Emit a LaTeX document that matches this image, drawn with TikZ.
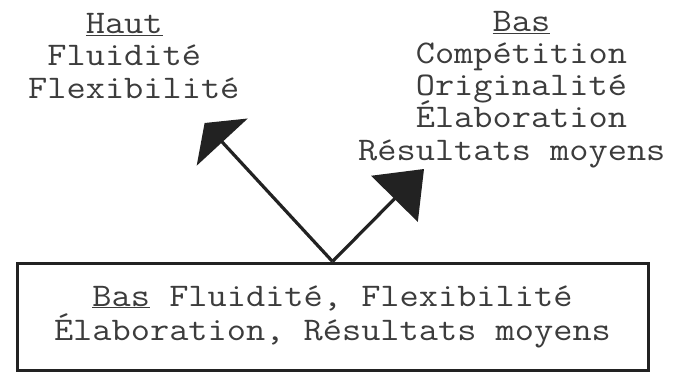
\documentclass[tikz,border=0pt]{standalone}
\usepackage{fontspec}
\usetikzlibrary{arrows.meta}
% typewriter face, a little widened to the pitch of the machine
\newfontfamily\typewriter{Latin Modern Mono}[FakeStretch=1.13]
\definecolor{ink}{HTML}{222222}
\definecolor{typed}{HTML}{3C3C3C}
% fixed line pitch, as on a typewriter
\newcommand\typedfont[1]{\typewriter\fontsize{33}{#1}\selectfont\lineskiplimit=-50pt\lineskip=0pt}
\tikzset{
  typedtext/.style={text=typed, inner sep=0pt, align=left,
    font=\typedfont{32.2}},
  framebox/.style={draw=ink, line width=3pt, text=typed, align=center,
    inner sep=0pt, font=\typedfont{34}},
  branch/.style={draw=ink, line width=3.2pt},
}
\begin{document}
\begin{tikzpicture}[x=1pt, y=-1pt]
  \fill[white] (0,0) rectangle (674,372);
  \useasboundingbox (0,0) rectangle (674,372);

  % lower box with the starting profile
  \node[framebox, minimum width=631pt, minimum height=107pt] (start) at (332.5,316.5)
    {\underline{Bas} Fluidité, Flexibilité\\Élaboration, Résultats moyens};

  % upper left outcome (anchored on its last line)
  \node[typedtext, anchor=base west] (high) at (28,98)
    {~~~\underline{Haut}\\~Fluidité\\Flexibilité};

  % upper right outcome (anchored on its last line)
  \node[typedtext, anchor=base west] (low) at (358,160)
    {~~~~~~~\underline{Bas}\\~~~Compétition\\~~~Originalité\\~~~Élaboration\\Résultats moyens};

  % arrow tips
  \coordinate (tipL) at (204.6,123);
  \coordinate (tipR) at (424,169);

  \draw[branch, -{Triangle[length=26pt, width=69pt]}] (start.north) -- (tipL);
  \draw[branch, -{Triangle[length=42pt, width=65pt]}] (start.north) -- (tipR);
\end{tikzpicture}
\end{document}
